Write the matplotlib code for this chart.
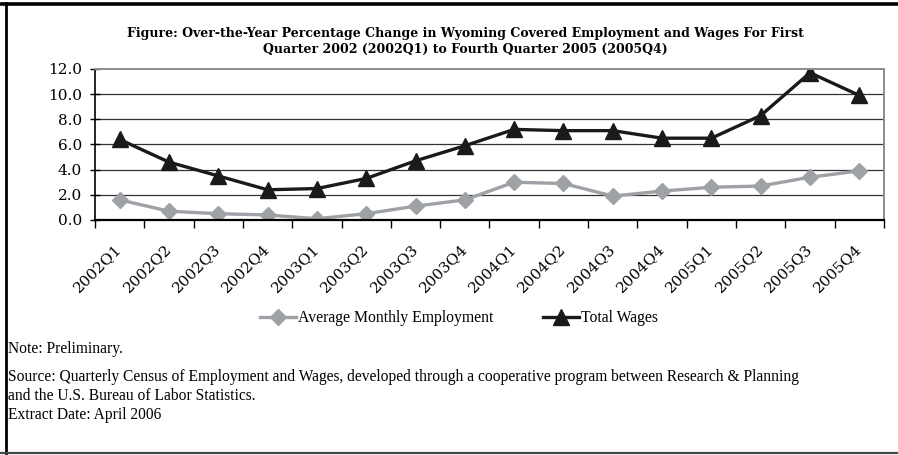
import numpy as np
import matplotlib
matplotlib.use("Agg")
import matplotlib.pyplot as plt
from matplotlib.lines import Line2D
import matplotlib.transforms as mtransforms

# quarters and over-the-year % change
quarters = ["2002Q1", "2002Q2", "2002Q3", "2002Q4",
            "2003Q1", "2003Q2", "2003Q3", "2003Q4",
            "2004Q1", "2004Q2", "2004Q3", "2004Q4",
            "2005Q1", "2005Q2", "2005Q3", "2005Q4"]
employment = [1.6, 0.7, 0.5, 0.4, 0.1, 0.5, 1.1, 1.6,
              3.0, 2.9, 1.9, 2.3, 2.6, 2.7, 3.4, 3.9]
wages = [6.4, 4.6, 3.5, 2.4, 2.5, 3.3, 4.7, 5.9,
         7.2, 7.1, 7.1, 6.5, 6.5, 8.3, 11.7, 9.9]
yticks = [0, 2, 4, 6, 8, 10, 12]

title = ("Figure: Over-the-Year Percentage Change in Wyoming Covered Employment and Wages For First\n"
         "Quarter 2002 (2002Q1) to Fourth Quarter 2005 (2005Q4)")
notes = ["Note: Preliminary.",
         "Source: Quarterly Census of Employment and Wages, developed through a cooperative program between Research & Planning",
         "and the U.S. Bureau of Labor Statistics.",
         "Extract Date: April 2006"]

fig = plt.figure(figsize=(8.98, 4.55), dpi=100)
ax = fig.add_axes([0.1058, 0.5165, 0.8786, 0.3319])

x = np.arange(len(quarters))
ax.plot(x, employment, color="#9ea2a6", lw=2.4, marker="D", ms=8,
        label="Average Monthly Employment")
ax.plot(x, wages, color="#1a1a1a", lw=2.4, marker="^", ms=11,
        label="Total Wages")

ax.set_xlim(-0.5, len(quarters) - 0.5)
ax.set_ylim(0, 12)
ax.set_yticks(yticks)
ax.set_yticklabels([f"{v:.1f}" for v in yticks], family="DejaVu Serif", fontsize=11)
for v in yticks[1:-1]:
    ax.axhline(v, color="#333333", lw=0.9, zorder=0)

# ticks at category boundaries, labels at the centres
ax.set_xticks(np.arange(-0.5, len(quarters)))
ax.set_xticklabels([])
ax.set_xticks(x, minor=True)
ax.set_xticklabels(quarters, minor=True, rotation=45, ha="right", va="center",
                   rotation_mode="anchor", family="DejaVu Serif", fontsize=11)
shift = mtransforms.ScaledTranslation(-4 / 72, 0, fig.dpi_scale_trans)
for lab in ax.get_xticklabels(minor=True):
    lab.set_transform(lab.get_transform() + shift)
ax.tick_params(axis="x", which="major", direction="out", length=6, width=1, color="black")
ax.tick_params(axis="x", which="minor", length=0, pad=19)
ax.tick_params(axis="y", direction="inout", length=7, width=1, color="black", pad=6)

ax.spines["left"].set_color("black")
ax.spines["left"].set_linewidth(1.2)
ax.spines["bottom"].set_color("black")
ax.spines["bottom"].set_linewidth(1.6)
ax.spines["top"].set_color("#8c8c8c")
ax.spines["top"].set_linewidth(1.4)
ax.spines["right"].set_color("#8c8c8c")
ax.spines["right"].set_linewidth(1.4)

fig.text(0.518, 0.909, title, ha="center", va="center", family="DejaVu Serif",
         fontweight="bold", fontsize=9, linespacing=1.3)

fig.legend(loc="center", bbox_to_anchor=(0.511, 0.301), ncol=2, frameon=False,
           prop={"family": "Liberation Serif", "size": 11.3},
           handlelength=2.3, handletextpad=0.1, columnspacing=3.2)

ys = [0.233, 0.172, 0.130, 0.088]
for t, yy in zip(notes, ys):
    fig.text(0.009, yy, t, ha="left", va="center", family="Liberation Serif", fontsize=11.2)

# frame around the figure
fig.add_artist(Line2D([0, 1], [0.992, 0.992], transform=fig.transFigure, color="black", lw=2.6))
fig.add_artist(Line2D([0.0067, 0.0067], [0.004, 0.994], transform=fig.transFigure, color="black", lw=2))
fig.add_artist(Line2D([0, 1], [0.005, 0.005], transform=fig.transFigure, color="#444444", lw=1.6))

fig.savefig("out.png", dpi=100)
